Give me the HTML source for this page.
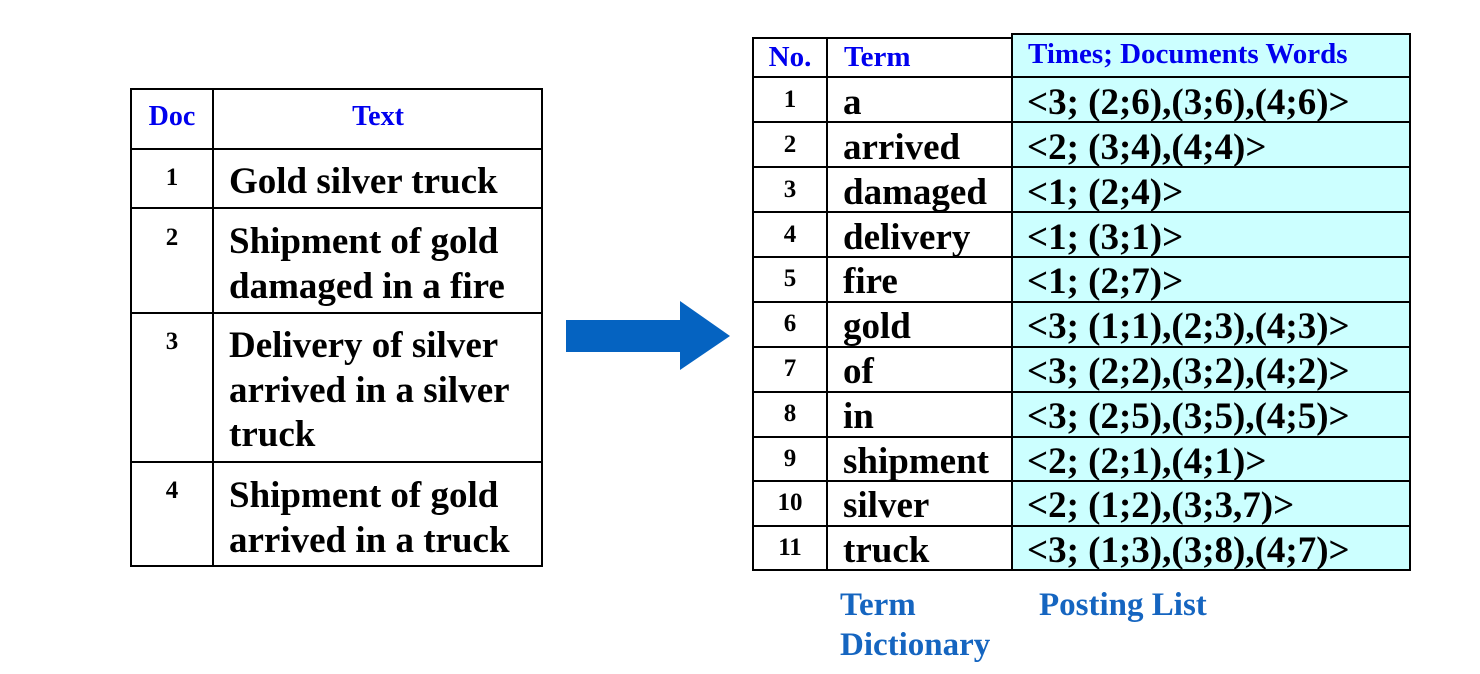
<!DOCTYPE html>
<html><head><meta charset="utf-8"><style>
html,body{margin:0;padding:0;background:#fff;width:1480px;height:674px;overflow:hidden}
svg text{font-family:"Liberation Serif",serif;font-weight:bold}
</style></head><body>
<svg width="1480" height="674" viewBox="0 0 1480 674" xmlns="http://www.w3.org/2000/svg">
<g stroke="#000" stroke-width="2" fill="none">
<rect x="131" y="89" width="411" height="477"/>
<line x1="213" y1="89" x2="213" y2="566"/>
<line x1="131" y1="149" x2="542" y2="149"/>
<line x1="131" y1="208" x2="542" y2="208"/>
<line x1="131" y1="313" x2="542" y2="313"/>
<line x1="131" y1="462" x2="542" y2="462"/>
</g>
<g fill="#0000ee" font-size="28" text-anchor="middle">
<text x="172" y="125">Doc</text>
<text x="378" y="125">Text</text>
</g>
<g fill="#000" font-size="25" text-anchor="middle">
<text x="172" y="185">1</text>
<text x="172" y="245">2</text>
<text x="172" y="349">3</text>
<text x="172" y="498">4</text>
</g>
<g fill="#000" font-size="37">
<text x="229" y="193">Gold silver truck</text>
<text x="229" y="253">Shipment of gold</text>
<text x="229" y="298">damaged in a fire</text>
<text x="229" y="357">Delivery of silver</text>
<text x="229" y="402">arrived in a silver</text>
<text x="229" y="446">truck</text>
<text x="229" y="507">Shipment of gold</text>
<text x="229" y="552">arrived in a truck</text>
</g>
<polygon points="566,320 680,320 680,301 730,336 680,370 680,352 566,352" fill="#0563c1"/>
<rect x="1012" y="34" width="398" height="536" fill="#ccffff"/>
<g stroke="#000" stroke-width="2" fill="none">
<polyline points="1012,38 753,38 753,570 1410,570 1410,34 1012,34 1012,570"/>
<line x1="827" y1="38" x2="827" y2="570"/>
<line x1="753" y1="77" x2="1410" y2="77"/>
<line x1="753" y1="122" x2="1410" y2="122"/>
<line x1="753" y1="167" x2="1410" y2="167"/>
<line x1="753" y1="212" x2="1410" y2="212"/>
<line x1="753" y1="257" x2="1410" y2="257"/>
<line x1="753" y1="302" x2="1410" y2="302"/>
<line x1="753" y1="347" x2="1410" y2="347"/>
<line x1="753" y1="392" x2="1410" y2="392"/>
<line x1="753" y1="437" x2="1410" y2="437"/>
<line x1="753" y1="481" x2="1410" y2="481"/>
<line x1="753" y1="526" x2="1410" y2="526"/>
</g>
<g fill="#0000ee" font-size="29">
<text x="790" y="66" text-anchor="middle">No.</text>
<text x="844" y="66">Term</text>
<text x="1028" y="63">Times; Documents Words</text>
</g>
<g fill="#000" font-size="25" text-anchor="middle">
<text x="790" y="107">1</text>
<text x="790" y="152">2</text>
<text x="790" y="197">3</text>
<text x="790" y="242">4</text>
<text x="790" y="286">5</text>
<text x="790" y="331">6</text>
<text x="790" y="376">7</text>
<text x="790" y="421">8</text>
<text x="790" y="466">9</text>
<text x="790" y="510">10</text>
<text x="790" y="555">11</text>
</g>
<g fill="#000" font-size="37">
<text x="843" y="114">a</text>
<text x="843" y="159">arrived</text>
<text x="843" y="204">damaged</text>
<text x="843" y="249">delivery</text>
<text x="843" y="293">fire</text>
<text x="843" y="338">gold</text>
<text x="843" y="383">of</text>
<text x="843" y="428">in</text>
<text x="843" y="473">shipment</text>
<text x="843" y="517">silver</text>
<text x="843" y="562">truck</text>
</g>
<g fill="#000" font-size="37">
<text x="1027" y="114">&lt;3; (2;6),(3;6),(4;6)&gt;</text>
<text x="1027" y="159">&lt;2; (3;4),(4;4)&gt;</text>
<text x="1027" y="204">&lt;1; (2;4)&gt;</text>
<text x="1027" y="249">&lt;1; (3;1)&gt;</text>
<text x="1027" y="293">&lt;1; (2;7)&gt;</text>
<text x="1027" y="338">&lt;3; (1;1),(2;3),(4;3)&gt;</text>
<text x="1027" y="383">&lt;3; (2;2),(3;2),(4;2)&gt;</text>
<text x="1027" y="428">&lt;3; (2;5),(3;5),(4;5)&gt;</text>
<text x="1027" y="473">&lt;2; (2;1),(4;1)&gt;</text>
<text x="1027" y="517">&lt;2; (1;2),(3;3,7)&gt;</text>
<text x="1027" y="562">&lt;3; (1;3),(3;8),(4;7)&gt;</text>
</g>
<g fill="#1565c0" font-size="33">
<text x="840" y="615">Term</text>
<text x="840" y="655">Dictionary</text>
<text x="1039" y="615">Posting List</text>
</g>
</svg>
</body></html>
